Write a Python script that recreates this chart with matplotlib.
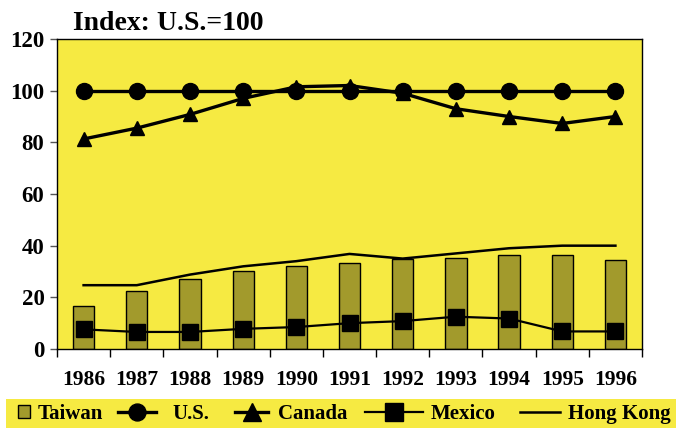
import matplotlib
matplotlib.use("Agg")
import matplotlib.pyplot as plt
from matplotlib.patches import Rectangle
import numpy as np

years = ["1986", "1987", "1988", "1989", "1990", "1991", "1992", "1993", "1994", "1995", "1996"]
taiwan = [16.8, 22.4, 27.0, 30.3, 32.3, 33.2, 35.0, 35.2, 36.3, 36.3, 34.5]
us = [100, 100, 100, 100, 100, 100, 100, 100, 100, 100, 100]
canada = [81.3, 85.5, 90.8, 97.0, 101.5, 102.0, 99.0, 93.0, 90.0, 87.3, 90.0]
mexico = [7.6, 6.6, 6.6, 7.8, 8.5, 10.0, 10.8, 12.5, 11.8, 6.8, 6.8]
hongkong = [24.7, 24.7, 28.8, 32.0, 34.0, 36.8, 35.0, 37.0, 39.0, 40.0, 40.0]

YELLOW = "#f6ea42"
OLIVE = "#a29a2c"
FONT = "Liberation Serif"

plt.rcParams["font.family"] = [FONT, "DejaVu Serif"]
plt.rcParams["font.weight"] = "bold"

W, H = 676, 428
fig = plt.figure(figsize=(W / 100, H / 100), dpi=100)
fig.patch.set_facecolor("white")
ax = fig.add_axes([57 / W, 79 / H, 585 / W, 310 / H])
ax.set_facecolor(YELLOW)

x = np.arange(len(years))
h_tw = ax.bar(x, taiwan, width=0.40, color=OLIVE, edgecolor="black", linewidth=1.0, label="Taiwan", zorder=2)
h_us, = ax.plot(x, us, color="black", lw=2.4, marker="o", ms=11.5, label="U.S.", zorder=4)
h_ca, = ax.plot(x, canada, color="black", lw=2.4, marker="^", ms=10.5, label="Canada", zorder=4)
h_mx, = ax.plot(x, mexico, color="black", lw=1.6, marker="s", ms=11, label="Mexico", zorder=4)
h_hk, = ax.plot(x, hongkong, color="black", lw=1.8, label="Hong Kong", zorder=3)

ax.set_xlim(-0.5, len(years) - 0.5)
ax.set_ylim(0, 120)
ax.set_yticks(range(0, 121, 20))
ax.set_yticklabels([str(v) for v in range(0, 121, 20)], fontsize=16.5, fontweight="bold")
ax.set_xticks(x)
ax.set_xticklabels(years, fontsize=15.5, fontweight="bold")
ax.set_xticks(np.arange(-0.5, len(years), 1.0), minor=True)
ax.tick_params(axis="x", which="major", length=0, pad=15)
ax.tick_params(axis="x", which="minor", length=6, width=1, direction="out")
ax.tick_params(axis="y", length=5, width=1, color="#555555", pad=4)
for s in ax.spines.values():
    s.set_color("black")
    s.set_linewidth(1.0)

fig.text(73 / W, 1 - 23 / H, "Index: U.S.=100", fontsize=20, fontweight="bold",
         ha="left", va="center")

# legend band
fig.patches.append(Rectangle((6 / W, 0), 1 - 6 / W, 29 / H, transform=fig.transFigure,
                             facecolor=YELLOW, edgecolor="none", zorder=0))

LEG_FS = 15
em = LEG_FS * 100 / 72.0
entries = [
    # handle, label, handle left px, handle length px, text left px, handleheight, markerscale
    (h_tw, "Taiwan", 18, 12, 38, 0.6, 1.0),
    (h_us, "U.S.", 118, 38, 172, 0.7, 1.06),
    (h_ca, "Canada", 235, 33, 278, 0.7, 1.2),
    (h_mx, "Mexico", 365, 58, 431, 0.7, 1.22),
    (h_hk, "Hong Kong", 520, 40, 568, 0.7, 1.0),
]
for hnd, lab, hx, hl, tx, hh, msc in entries:
    fig.legend([hnd], [lab], loc="center left", bbox_to_anchor=(hx / W, 14 / H),
               frameon=False, borderpad=0, borderaxespad=0,
               prop={"family": FONT, "weight": "bold", "size": LEG_FS},
               handlelength=hl / em, handleheight=hh, handletextpad=(tx - hx - hl) / em,
               markerscale=msc)

fig.savefig("out.png", dpi=100, facecolor="white")
